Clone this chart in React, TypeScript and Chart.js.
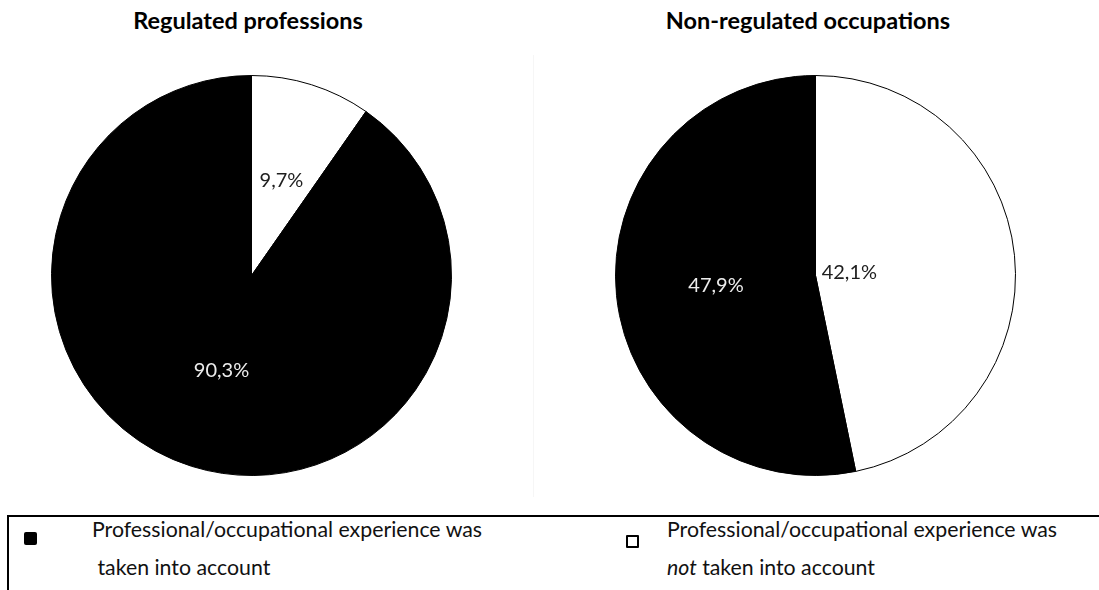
import React, { useEffect, useRef } from 'react';
import { Chart, registerables } from 'chart.js';

Chart.register(...registerables);

// ---- data ----
const sliceCategories = [
  'Professional/occupational experience was not taken into account',
  'Professional/occupational experience was taken into account',
];
const chartTitles = ['Regulated professions', 'Non-regulated occupations'];
const regulatedValues = [9.7, 90.3];
const nonRegulatedValues = [42.1, 47.9];
const sliceColors = ['#ffffff', '#000000'];
const labelColors = ['#1e1e1e', '#ececec'];
const regulatedLabelRadius = [0.5, 0.5];
const nonRegulatedLabelRadius = [0.17, 0.5];

const FONT = 'Lato, "Open Sans", sans-serif';

const fmt = (v: number) => v.toFixed(1).replace('.', ',') + '%';

function makeLabelPlugin(values: number[], radii: number[]) {
  return {
    id: 'sliceLabels',
    afterDatasetsDraw(chart: any) {
      const ctx = chart.ctx;
      const meta = chart.getDatasetMeta(0);
      ctx.save();
      ctx.font = `20px ${FONT}`;
      ctx.textAlign = 'center';
      ctx.textBaseline = 'middle';
      meta.data.forEach((arc: any, i: number) => {
        const p = arc.getProps(['x', 'y', 'startAngle', 'endAngle', 'outerRadius'], true);
        const mid = (p.startAngle + p.endAngle) / 2;
        const r = p.outerRadius * radii[i];
        ctx.fillStyle = labelColors[i];
        ctx.fillText(fmt(values[i]), p.x + Math.cos(mid) * r, p.y + Math.sin(mid) * r);
      });
      ctx.restore();
    },
  };
}

function PieCanvas({ values, radii, left, top }: { values: number[]; radii: number[]; left: number; top: number }) {
  const ref = useRef<HTMLCanvasElement | null>(null);
  useEffect(() => {
    if (!ref.current) return;
    const chart = new Chart(ref.current, {
      type: 'pie',
      data: {
        labels: sliceCategories,
        datasets: [
          {
            data: values,
            backgroundColor: sliceColors,
            borderColor: '#000000',
            borderWidth: 1,
          },
        ],
      },
      options: {
        responsive: false,
        animation: false,
        devicePixelRatio: 1,
        layout: { padding: 10 },
        plugins: { legend: { display: false }, tooltip: { enabled: false }, title: { display: false } },
      },
      plugins: [makeLabelPlugin(values, radii)],
    } as any);
    return () => chart.destroy();
  }, [values, radii]);
  return (
    <canvas
      ref={ref}
      width={421}
      height={421}
      style={{ position: 'absolute', left, top, width: 421, height: 421 }}
    />
  );
}

export default function App() {
  const titleStyle: React.CSSProperties = {
    position: 'absolute',
    width: 400,
    textAlign: 'center',
    fontFamily: FONT,
    fontWeight: 700,
    fontSize: 23.5,
    lineHeight: '28px',
    color: '#000',
    whiteSpace: 'nowrap',
  };
  const legendText: React.CSSProperties = {
    position: 'absolute',
    fontFamily: FONT,
    fontSize: 21.3,
    lineHeight: '38px',
    color: '#111',
    whiteSpace: 'pre',
  };
  return (
    <div
      style={{
        position: 'absolute',
        left: 0,
        top: 0,
        width: 1099,
        height: 590,
        background: '#fff',
        overflow: 'hidden',
      }}
    >
      <div style={{ ...titleStyle, left: 48, top: 6 }}>{chartTitles[0]}</div>
      <div style={{ ...titleStyle, left: 608, top: 6 }}>{chartTitles[1]}</div>
      <div style={{ position: 'absolute', left: 533, top: 55, width: 1, height: 442, background: '#f6f6f6' }} />
      <PieCanvas values={regulatedValues} radii={regulatedLabelRadius} left={41} top={65} />
      <PieCanvas values={nonRegulatedValues} radii={nonRegulatedLabelRadius} left={605} top={65} />

      {/* legend box */}
      <div
        style={{
          position: 'absolute',
          left: 7,
          top: 515,
          width: 1200,
          height: 200,
          borderTop: '2px solid #000',
          borderLeft: '2px solid #000',
        }}
      />
      <div
        style={{
          position: 'absolute',
          left: 24,
          top: 532,
          width: 13,
          height: 13,
          background: sliceColors[1],
          borderRadius: 2,
        }}
      />
      <div style={{ ...legendText, left: 92, top: 510 }}>
        {'Professional/occupational experience was\n taken into account'}
      </div>
      <div
        style={{
          position: 'absolute',
          left: 626,
          top: 535,
          width: 9,
          height: 9,
          background: sliceColors[0],
          border: '2px solid #000',
          borderRadius: 1,
        }}
      />
      <div style={{ ...legendText, left: 667, top: 510 }}>
        {'Professional/occupational experience was\n'}
        <i>not</i>
        {' taken into account'}
      </div>
    </div>
  );
}
